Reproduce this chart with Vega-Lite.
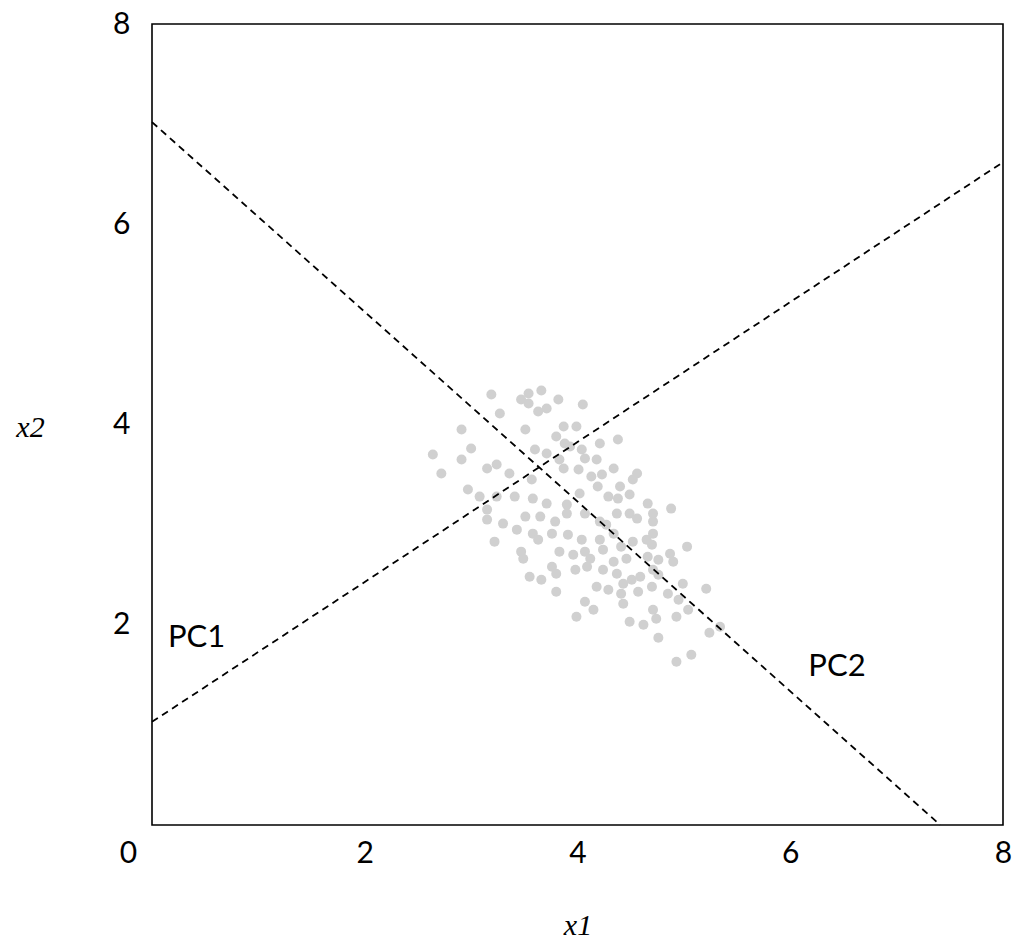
{
  "$schema": "https://vega.github.io/schema/vega-lite/v6.json",
  "width": 851,
  "height": 801,
  "autosize": "none",
  "padding": {"left": 152, "top": 24, "right": 12, "bottom": 115},
  "background": "white",
  "config": {
    "view": {"stroke": "black", "strokeWidth": 1.6},
    "font": "Lato"
  },
  "datasets": {
    "pts": [
      {"x1":3.19,"x2":4.30},{"x1":3.47,"x2":4.25},{"x1":3.54,"x2":4.31},{"x1":3.66,"x2":4.34},{"x1":3.54,"x2":4.21},
      {"x1":3.82,"x2":4.25},{"x1":4.05,"x2":4.20},{"x1":3.63,"x2":4.13},{"x1":3.71,"x2":4.16},{"x1":3.27,"x2":4.11},
      {"x1":2.91,"x2":3.95},{"x1":3.51,"x2":3.95},{"x1":3.87,"x2":3.98},{"x1":3.80,"x2":3.88},{"x1":3.99,"x2":3.98},
      {"x1":3.88,"x2":3.81},{"x1":4.38,"x2":3.85},{"x1":4.21,"x2":3.81},{"x1":2.64,"x2":3.70},{"x1":3.00,"x2":3.76},
      {"x1":2.91,"x2":3.65},{"x1":3.60,"x2":3.75},{"x1":3.71,"x2":3.71},{"x1":3.93,"x2":3.78},{"x1":4.04,"x2":3.75},
      {"x1":3.83,"x2":3.65},{"x1":4.18,"x2":3.65},{"x1":4.07,"x2":3.66},{"x1":2.72,"x2":3.51},{"x1":3.15,"x2":3.56},
      {"x1":3.24,"x2":3.60},{"x1":3.36,"x2":3.51},{"x1":3.57,"x2":3.45},{"x1":3.87,"x2":3.56},{"x1":4.01,"x2":3.55},
      {"x1":4.13,"x2":3.48},{"x1":4.23,"x2":3.50},{"x1":4.34,"x2":3.56},{"x1":4.56,"x2":3.51},{"x1":4.52,"x2":3.45},
      {"x1":2.97,"x2":3.35},{"x1":3.08,"x2":3.28},{"x1":3.24,"x2":3.28},{"x1":3.41,"x2":3.28},{"x1":3.58,"x2":3.26},
      {"x1":3.71,"x2":3.21},{"x1":3.90,"x2":3.20},{"x1":4.02,"x2":3.31},{"x1":4.19,"x2":3.38},{"x1":4.29,"x2":3.28},
      {"x1":4.40,"x2":3.38},{"x1":4.38,"x2":3.26},{"x1":4.49,"x2":3.30},{"x1":4.66,"x2":3.21},{"x1":4.88,"x2":3.16},
      {"x1":3.15,"x2":3.15},{"x1":3.15,"x2":3.05},{"x1":3.30,"x2":3.01},{"x1":3.51,"x2":3.08},{"x1":3.65,"x2":3.08},
      {"x1":3.79,"x2":3.03},{"x1":3.90,"x2":3.11},{"x1":4.07,"x2":3.11},{"x1":4.21,"x2":3.03},{"x1":4.27,"x2":3.00},
      {"x1":4.37,"x2":3.11},{"x1":4.49,"x2":3.11},{"x1":4.56,"x2":3.06},{"x1":4.71,"x2":3.11},{"x1":4.71,"x2":3.03},
      {"x1":3.22,"x2":2.83},{"x1":3.43,"x2":2.95},{"x1":3.58,"x2":2.91},{"x1":3.63,"x2":2.85},{"x1":3.76,"x2":2.91},
      {"x1":3.91,"x2":2.90},{"x1":4.04,"x2":2.85},{"x1":4.21,"x2":2.85},{"x1":4.34,"x2":2.91},{"x1":4.41,"x2":2.78},
      {"x1":4.52,"x2":2.83},{"x1":4.65,"x2":2.85},{"x1":4.71,"x2":2.91},{"x1":4.70,"x2":2.80},{"x1":5.03,"x2":2.78},
      {"x1":3.47,"x2":2.73},{"x1":3.49,"x2":2.66},{"x1":3.83,"x2":2.73},{"x1":3.96,"x2":2.70},{"x1":4.07,"x2":2.73},
      {"x1":4.12,"x2":2.66},{"x1":4.24,"x2":2.75},{"x1":4.34,"x2":2.63},{"x1":4.46,"x2":2.66},{"x1":4.66,"x2":2.68},
      {"x1":4.76,"x2":2.65},{"x1":4.87,"x2":2.71},{"x1":4.90,"x2":2.63},{"x1":3.55,"x2":2.48},{"x1":3.66,"x2":2.45},
      {"x1":3.76,"x2":2.58},{"x1":3.80,"x2":2.51},{"x1":3.98,"x2":2.55},{"x1":4.09,"x2":2.58},{"x1":4.24,"x2":2.55},
      {"x1":4.37,"x2":2.51},{"x1":4.43,"x2":2.41},{"x1":4.51,"x2":2.45},{"x1":4.59,"x2":2.48},{"x1":4.71,"x2":2.55},
      {"x1":4.76,"x2":2.50},{"x1":3.80,"x2":2.33},{"x1":4.18,"x2":2.38},{"x1":4.29,"x2":2.35},{"x1":4.41,"x2":2.31},
      {"x1":4.57,"x2":2.33},{"x1":4.70,"x2":2.38},{"x1":4.85,"x2":2.31},{"x1":4.95,"x2":2.25},{"x1":4.99,"x2":2.41},
      {"x1":5.21,"x2":2.36},{"x1":3.99,"x2":2.08},{"x1":4.07,"x2":2.23},{"x1":4.15,"x2":2.15},{"x1":4.43,"x2":2.21},
      {"x1":4.49,"x2":2.03},{"x1":4.62,"x2":2.00},{"x1":4.71,"x2":2.15},{"x1":4.74,"x2":2.06},{"x1":4.93,"x2":2.08},
      {"x1":5.04,"x2":2.15},{"x1":5.24,"x2":1.92},{"x1":5.34,"x2":1.98},{"x1":4.76,"x2":1.87},{"x1":4.93,"x2":1.63},
      {"x1":5.07,"x2":1.70}
    ],
    "lines": [
      {"pc":"PC1","x1":0,"x2":1.03},{"pc":"PC1","x1":8,"x2":6.62},
      {"pc":"PC2","x1":0,"x2":7.02},{"pc":"PC2","x1":7.41,"x2":0}
    ],
    "labels": [
      {"label":"PC1","x1":0.15,"x2":1.87},
      {"label":"PC2","x1":6.17,"x2":1.58}
    ]
  },
  "layer": [
    {
      "data": {"name": "pts"},
      "mark": {"type": "circle", "size": 100, "color": "#d0d0d0", "opacity": 1},
      "encoding": {
        "x": {
          "field": "x1", "type": "quantitative",
          "scale": {"domain": [0, 8], "nice": false, "zero": false},
          "axis": {
            "title": "x1", "values": [0, 2, 4, 6, 8], "format": "d",
            "grid": false, "ticks": false, "domain": false,
            "labelFont": "Lato", "labelFontSize": 30, "labelColor": "black",
            "labelPadding": 13, "labelFlush": false, "labelOverlap": false,
            "labelOffset": {"condition": {"test": "datum.value === 0", "value": -24}, "value": 0},
            "titleFont": "Liberation Serif", "titleFontStyle": "italic", "titleFontWeight": "normal",
            "titleFontSize": 30, "titleColor": "black",
            "titleY": 100, "titleBaseline": "middle"
          }
        },
        "y": {
          "field": "x2", "type": "quantitative",
          "scale": {"domain": [0, 8], "nice": false, "zero": false},
          "axis": {
            "title": "x2", "values": [0, 2, 4, 6, 8], "format": "d",
            "labelExpr": "datum.value === 0 ? '' : datum.label",
            "grid": false, "ticks": false, "domain": false,
            "labelFont": "Lato", "labelFontSize": 30, "labelColor": "black",
            "labelPadding": 22, "labelFlush": false, "labelOverlap": false,
            "titleFont": "Liberation Serif", "titleFontStyle": "italic", "titleFontWeight": "normal",
            "titleFontSize": 30, "titleColor": "black",
            "titleAngle": 0, "titleX": -122, "titleY": 403,
            "titleAlign": "center", "titleBaseline": "middle"
          }
        }
      }
    },
    {
      "data": {"name": "lines"},
      "mark": {"type": "line", "color": "black", "strokeWidth": 1.8, "strokeDash": [7, 5]},
      "encoding": {
        "x": {"field": "x1", "type": "quantitative"},
        "y": {"field": "x2", "type": "quantitative"},
        "detail": {"field": "pc"}
      }
    },
    {
      "data": {"name": "labels"},
      "mark": {"type": "text", "align": "left", "baseline": "middle", "font": "Lato", "fontSize": 31, "color": "black"},
      "encoding": {
        "x": {"field": "x1", "type": "quantitative"},
        "y": {"field": "x2", "type": "quantitative"},
        "text": {"field": "label"}
      }
    }
  ]
}
